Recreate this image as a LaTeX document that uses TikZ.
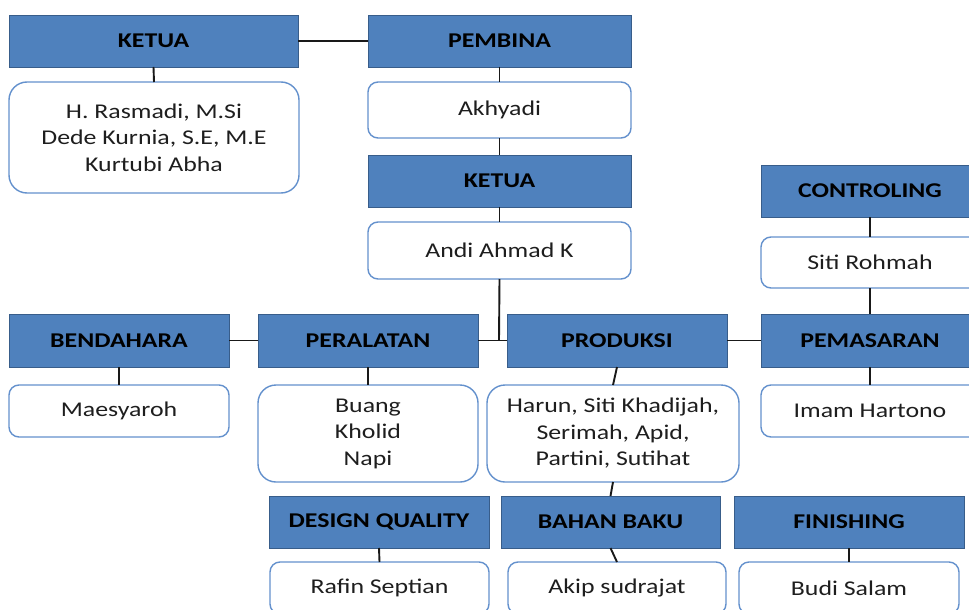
\documentclass[tikz,border=0pt]{standalone}
\usepackage{fontspec}
\setmainfont{Carlito}[FakeStretch=1.23]
\definecolor{hdrfill}{RGB}{79,129,189}
\definecolor{hdrline}{RGB}{56,93,138}
\definecolor{rndline}{RGB}{100,145,205}
\definecolor{txt}{RGB}{30,30,30}
\tikzset{
  hdr/.style={draw=hdrline, fill=hdrfill, line width=0.9pt, inner sep=0pt, outer sep=0pt,
    font=\fontsize{21}{26.5}\selectfont\bfseries, text=black},
  rnd/.style={draw=rndline, fill=white, line width=1.4pt, rounded corners=10pt, inner sep=0pt, outer sep=0pt,
    font=\fontsize{21}{26.5}\selectfont, text=txt, align=center},
  tall/.style={rnd, rounded corners=18pt},
  conn/.style={draw=black!90, line width=1.9pt}
}
\newcommand\mybox[7]{\node[#1, minimum width={(#5-#3)*1pt}, minimum height={(#6-#4)*1pt}] (#2) at ({(#3+#5)/2},{(#4+#6)/2}) {#7};}
\begin{document}
\begin{tikzpicture}[x=1pt,y=-1pt]
\useasboundingbox (0,0) rectangle (969,610);
\fill[white] (0,0) rectangle (969,610);
\clip (0,0) rectangle (969,610);
% top
\mybox{hdr}{k1}{9}{15}{298}{67}{KETUA}
\mybox{hdr}{pemb}{368}{15}{631}{67}{PEMBINA}
\mybox{tall}{k1c}{9}{82}{299}{193}{H. Rasmadi, M.Si\\Dede Kurnia, S.E, M.E\\Kurtubi Abha}
\mybox{rnd}{akh}{368}{82}{631}{138}{Akhyadi}
\mybox{hdr}{k2}{368}{155}{631}{207}{KETUA}
\mybox{rnd}{andi}{368}{222}{631}{279}{Andi Ahmad K}
\mybox{hdr}{ctrl}{761}{165}{979}{217}{CONTROLING}
\mybox{rnd}{siti}{761}{237}{979}{288}{Siti Rohmah}
% row
\mybox{hdr}{bend}{9}{314}{229}{367}{BENDAHARA}
\mybox{hdr}{peral}{258}{314}{478}{367}{PERALATAN}
\mybox{hdr}{prod}{507}{314}{727}{367}{PRODUKSI}
\mybox{hdr}{pemas}{761}{314}{979}{367}{PEMASARAN}
\mybox{rnd}{maes}{9}{385}{229}{437}{Maesyaroh}
\mybox{tall}{buang}{258}{385}{478}{482}{Buang\\Kholid\\Napi}
\mybox{tall}{harun}{487}{385}{739}{482}{Harun, Siti Khadijah,\\Serimah, Apid,\\Partini, Sutihat}
\mybox{rnd}{imam}{761}{385}{979}{437}{Imam Hartono}
% bottom
\mybox{hdr}{dq}{269}{496}{489}{548}{DESIGN QUALITY}
\mybox{hdr}{bb}{501}{496}{720}{548}{BAHAN BAKU}
\mybox{hdr}{fin}{734}{496}{964}{548}{FINISHING}
\mybox{rnd}{rafin}{270}{562}{489}{614}{Rafin Septian}
\mybox{rnd}{akip}{508}{562}{726}{614}{Akip sudrajat}
\mybox{rnd}{budi}{739}{562}{959}{614}{Budi Salam}
% connectors
\coordinate (j) at (499,340.5);
\draw[conn] (k1.east) -- (pemb.west);
\draw[conn] (k1.south) -- (k1c.north);
\draw[conn] (pemb.south) -- (akh.north);
\draw[conn] (akh.south) -- (k2.north);
\draw[conn] (k2.south) -- (andi.north);
\draw[conn] (andi.south) -- (j);
\draw[conn] (peral.east) -- (prod.west);
\draw[conn] (bend.east) -- (peral.west);
\draw[conn] (prod.east) -- (pemas.west);
\draw[conn] (ctrl.south) -- (siti.north);
\draw[conn] (siti.south) -- (pemas.north);
\draw[conn] (bend.south) -- (maes.north);
\draw[conn] (peral.south) -- (buang.north);
\draw[conn] (prod.south) -- (harun.north);
\draw[conn] (pemas.south) -- (imam.north);
\draw[conn] (harun.south) -- (bb.north);
\draw[conn] (dq.south) -- (rafin.north);
\draw[conn] (bb.south) -- (akip.north);
\draw[conn] (fin.south) -- (budi.north);
\end{tikzpicture}
\end{document}
